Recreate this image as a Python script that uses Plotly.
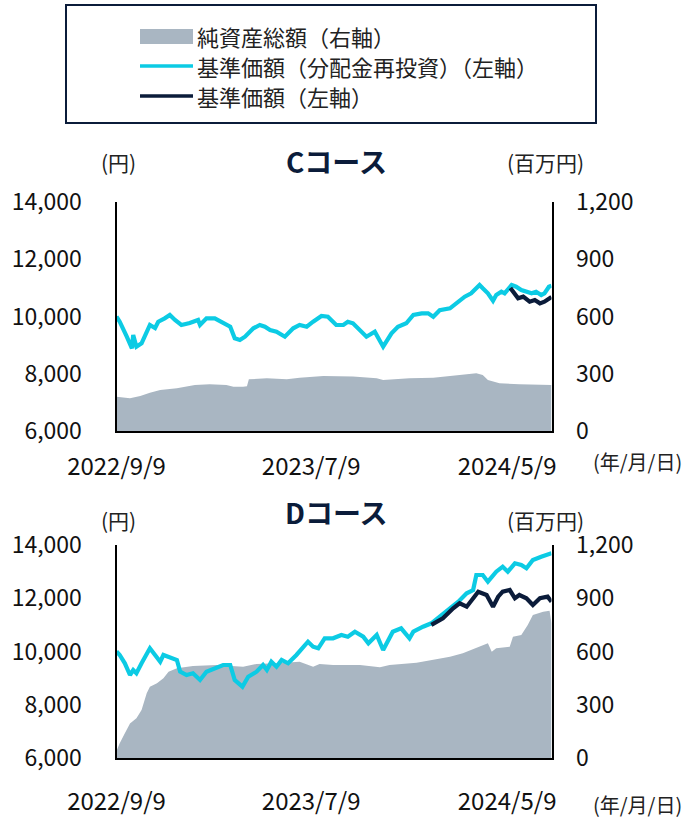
import pandas as pd
import plotly.graph_objects as go

START = pd.Timestamp("2022-09-09")
END_DAY = 677

# ---- C course ----
c_reinv_days = [0,5,16,24,26,31,39,52,60,65,75,83,91,101,114,127,130,140,153,166,177,184,192,200,213,223,231,239,249,262,
                275,285,296,306,319,329,342,353,360,368,379,389,402,407,415,428,438,451,462,475,485,493,503,519,529,542,552,560,565,570,
                578,586,591,599,604,615,622,630,638,646,653,661,666,673,677]
c_reinv_vals = [10000,9818,9294,8889,9353,8945,9063,9703,9598,9818,9935,10052,9877,9703,9773,9877,9703,9935,9935,9762,
                9643,9238,9179,9294,9587,9703,9643,9528,9469,9294,9587,9703,9643,9818,10017,9993,9703,9703,9818,9762,
                9528,9294,9469,9238,8945,9412,9643,9762,10052,10110,10110,9993,10220,10286,10459,10692,10809,10984,11100,10984,
                10809,10551,10750,10866,10809,11100,11040,10925,10866,10809,10866,10750,10809,11040,11080]
c_nav_days = [613,620,625,633,643,651,659,666,673,677]
c_nav_vals = [11000,10809,10634,10692,10517,10576,10459,10517,10634,10680]
c_aum_days = [0,21,37,52,68,94,122,145,171,182,197,203,206,234,265,285,322,368,405,415,456,493,534,560,570,578,596,627,677]
c_aum_vals = [180,171,183,201,215,224,241,245,241,232,232,235,271,276,271,279,288,285,276,267,276,279,293,302,293,267,250,245,241]

# ---- D course ----
d_reinv_days = [0,5,13,21,26,31,39,52,60,68,73,81,94,99,109,119,130,140,153,166,177,184,196,205,218,228,234,241,249,257,
                267,280,298,306,314,324,337,350,360,371,384,392,405,415,430,443,456,462,477,490,503,519,532,545,555,560,570,578,591,601,
                609,620,630,638,648,661,671,677]
d_reinv_vals = [10000,9869,9557,9117,9305,9181,9557,10120,9869,9617,9869,9805,9681,9242,9117,9181,8930,9242,9369,9493,
                9493,8930,8678,9054,9242,9493,9305,9617,9429,9681,9557,9869,10368,10180,10120,10496,10496,10620,10556,10744,
                10556,10308,10620,10056,10744,10871,10496,10744,10932,11059,11307,11623,11871,12186,12310,12873,12873,12622,12997,13185,
                12997,13312,13250,13125,13437,13561,13625,13690]
d_nav_days = [490,508,524,534,545,555,563,576,586,594,601,612,620,627,638,648,659,671,677]
d_nav_vals = [11000,11247,11623,11810,11683,11998,12246,12122,11683,12059,12246,12310,11998,12122,11998,11747,11998,12059,11871]
d_aum_days = [0,5,13,21,31,39,47,52,63,73,81,94,119,156,197,218,249,285,306,316,337,379,410,425,467,493,519,539,560,578,
              584,591,612,617,630,640,648,664,674,677]
d_aum_vals = [40,83,139,195,224,270,365,402,421,449,486,505,518,524,514,530,534,542,514,530,524,524,511,524,537,552,571,590,618,646,
              599,618,627,683,693,749,806,824,830,759]

tick_dates = ["2022-09-09", "2023-07-09", "2024-05-09"]
tick_labels = ["2022/9/9", "2023/7/9", "2024/5/9"]
left_ticks = [6000, 8000, 10000, 12000, 14000]
right_ticks = [0, 300, 600, 900, 1200]
legend_labels = ["純資産総額（右軸）", "基準価額（分配金再投資）（左軸）", "基準価額（左軸）"]
titles = ["Cコース", "Dコース"]

AREA = "#A9B6C2"
CYAN = "#0CCBE4"
NAVY = "#0B1C3A"
W, H = 682, 820


def dts(days):
    return START + pd.to_timedelta(days, unit="D")


def px(x):
    return x / W


def py(y):
    return 1 - y / H


fig = go.Figure()
sets = [
    (c_reinv_days, c_reinv_vals, c_nav_days, c_nav_vals, c_aum_days, c_aum_vals, "x", "y", "y2"),
    (d_reinv_days, d_reinv_vals, d_nav_days, d_nav_vals, d_aum_days, d_aum_vals, "x2", "y3", "y4"),
]
for rd, rv, nd, nv, ad, av, xa, ya_r, ya_l in sets:
    fig.add_trace(go.Scatter(x=dts(ad), y=av, xaxis=xa, yaxis=ya_r, mode="lines", fill="tozeroy",
                             fillcolor=AREA, line=dict(width=0, color=AREA), showlegend=False))
    fig.add_trace(go.Scatter(x=dts(rd), y=rv, xaxis=xa, yaxis=ya_l, mode="lines",
                             line=dict(color=CYAN, width=4.2), showlegend=False))
    fig.add_trace(go.Scatter(x=dts(nd), y=nv, xaxis=xa, yaxis=ya_l, mode="lines",
                             line=dict(color=NAVY, width=4.2), showlegend=False))

JP = "Noto Sans CJK JP"
YFONT = dict(family=JP, size=23, color="#111")
XFONT = dict(family=JP, size=24, color="#111")
XDOM = [px(116.5), px(551.5)]
xr = [START, START + pd.Timedelta(days=END_DAY)]

common_x = dict(domain=XDOM, range=xr, tickvals=tick_dates, ticktext=tick_labels, showgrid=False, zeroline=False,
                showline=True, linecolor="black", linewidth=2, ticks="outside", tickcolor="rgba(0,0,0,0)",
                tickfont=XFONT, automargin=False)
common_r = dict(range=[0, 1200], tickvals=right_ticks, tickformat=",", side="right", showgrid=False, zeroline=False,
                showline=True, linecolor="black", linewidth=2, ticks="outside", tickcolor="rgba(0,0,0,0)", ticklen=18,
                tickfont=YFONT, automargin=False)
common_l = dict(range=[6000, 14000], tickvals=left_ticks, tickformat=",", side="left", showgrid=False, zeroline=False,
                showline=True, linecolor="black", linewidth=2, ticks="outside", tickcolor="rgba(0,0,0,0)", ticklen=28,
                tickfont=YFONT, automargin=False)

fig.update_layout(
    width=W, height=H, margin=dict(l=0, r=0, t=0, b=0, autoexpand=False), plot_bgcolor="white", paper_bgcolor="white",
    showlegend=False,
    xaxis=dict(anchor="y", ticklen=13, **common_x),
    xaxis2=dict(anchor="y3", ticklen=21, **common_x),
    yaxis=dict(domain=[py(431), py(202)], anchor="x", **common_r),
    yaxis2=dict(overlaying="y", anchor="x", **common_l),
    yaxis3=dict(domain=[py(758), py(545)], anchor="x2", **common_r),
    yaxis4=dict(overlaying="y3", anchor="x2", **common_l),
)

shapes = [
    dict(type="rect", xref="paper", yref="paper", x0=px(66), x1=px(596), y0=py(123), y1=py(5),
         line=dict(color=NAVY, width=2), fillcolor="rgba(0,0,0,0)"),
    dict(type="rect", xref="paper", yref="paper", x0=px(140), x1=px(193), y0=py(44), y1=py(29),
         line=dict(width=0), fillcolor=AREA),
    dict(type="line", xref="paper", yref="paper", x0=px(140), x1=px(193), y0=py(66), y1=py(66),
         line=dict(color=CYAN, width=3.5)),
    dict(type="line", xref="paper", yref="paper", x0=px(140), x1=px(193), y0=py(96), y1=py(96),
         line=dict(color=NAVY, width=3.5)),
]
fig.update_layout(shapes=shapes)

ann = []
for lbl, yy in zip(legend_labels, [36, 66, 96]):
    ann.append(dict(text=lbl, x=px(195), y=py(yy), xanchor="left", yanchor="middle",
                    font=dict(family=JP, size=22, color="#222")))
for t, ty, uy, xy in [(titles[0], 161, 162, 462), (titles[1], 512, 520, 804)]:
    ann.append(dict(text="<b>" + t + "</b>", x=px(336), y=py(ty), xanchor="center", yanchor="middle",
                    font=dict(family=JP, size=28, color=NAVY)))
    ann.append(dict(text="(円)", x=px(118), y=py(uy), xanchor="center", yanchor="middle",
                    font=dict(family=JP, size=21, color="#222")))
    ann.append(dict(text="(百万円)", x=px(545), y=py(uy), xanchor="center", yanchor="middle",
                    font=dict(family=JP, size=21, color="#222")))
    ann.append(dict(text="(年/月/日)", x=px(637), y=py(xy), xanchor="center", yanchor="middle",
                    font=dict(family=JP, size=20, color="#222")))
for a in ann:
    a.update(xref="paper", yref="paper", showarrow=False)
fig.update_layout(annotations=ann)

fig.write_html("out.html", config={"displayModeBar": False},
               post_script="document.body.style.margin='0';document.body.style.overflow='hidden';")
